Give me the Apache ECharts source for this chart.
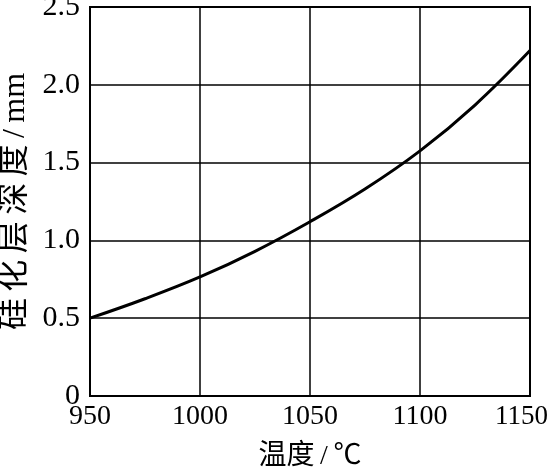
<!DOCTYPE html>
<html>
<head>
<meta charset="utf-8">
<script src="https://cdn.jsdelivr.net/npm/echarts@6/dist/echarts.min.js"></script>
<style>
  html, body { margin: 0; padding: 0; background: #fff; }
  #chart { width: 551px; height: 474px; }
</style>
</head>
<body>
<div id="chart"></div>
<script>
// 温度 (℃) 与 硅化层深度 (mm)
var temps = [950, 975, 1000, 1025, 1050, 1075, 1100, 1125, 1150];
var depths = [0.50, 0.625, 0.765, 0.93, 1.12, 1.33, 1.575, 1.87, 2.22];
var xTicks = [950, 1000, 1050, 1100, 1150];
var yTicks = [0, 0.5, 1.0, 1.5, 2.0, 2.5];

var serif = "'Liberation Serif', 'Times New Roman', 'Noto Sans CJK SC', serif";
var xMax = xTicks[xTicks.length - 1];

var myChart = echarts.init(document.getElementById('chart'));
var option = {
  animation: false,
  grid: {
    left: 90, right: 21, top: 7, bottom: 78,
    outerBoundsMode: 'none',
    show: true, borderColor: '#000', borderWidth: 2
  },
  xAxis: {
    type: 'value',
    min: xTicks[0], max: xMax, interval: 50,
    name: '温度\u2009/\u2009℃',
    nameLocation: 'middle',
    nameGap: 47,
    nameTextStyle: { color: '#000', fontSize: 28, fontFamily: serif },
    axisLine: { show: false },
    axisTick: { show: false },
    axisLabel: {
      color: '#000', fontSize: 28, fontFamily: serif, margin: 7,
      // 最后一个刻度标签略向左收，避免被裁掉
      formatter: function (v) { return v === xMax ? '{m|' + v + '}' : String(v); },
      rich: { m: { fontSize: 27, fontFamily: serif, color: '#000', padding: [0, 17, 0, 0] } }
    },
    splitLine: { lineStyle: { color: '#000', width: 1.5 } }
  },
  yAxis: {
    type: 'value',
    min: yTicks[0], max: yTicks[yTicks.length - 1], interval: 0.5,
    name: '硅\u2009化\u2009层\u2009深\u2009度\u2009/\u2009mm',
    nameLocation: 'middle',
    nameGap: 58,
    nameTextStyle: { color: '#000', fontSize: 32, fontFamily: serif },
    axisLine: { show: false },
    axisTick: { show: false },
    axisLabel: {
      color: '#000', fontSize: 30, fontFamily: serif, margin: 10,
      formatter: function (v) { return v === 0 ? '0' : v.toFixed(1); }
    },
    splitLine: { lineStyle: { color: '#000', width: 1.5 } }
  },
  series: [{
    type: 'line',
    data: temps.map(function (t, i) { return [t, depths[i]]; }),
    smooth: 0.4,
    showSymbol: false,
    lineStyle: { color: '#000', width: 3 }
  }]
};
myChart.setOption(option);
</script>
</body>
</html>
